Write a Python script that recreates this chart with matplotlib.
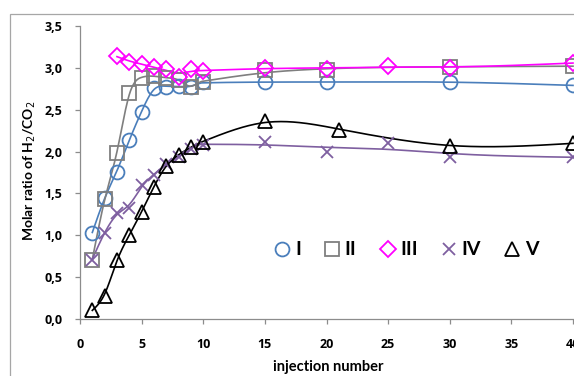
import numpy as np
import matplotlib
matplotlib.use("Agg")
import matplotlib.pyplot as plt
from matplotlib.lines import Line2D
from matplotlib.patches import Rectangle
from matplotlib.ticker import FuncFormatter, MultipleLocator

plt.rcParams['font.family'] = ['Lato', 'DejaVu Sans']

# ---- data ----
x_I = [1, 2, 3, 4, 5, 6, 7, 8, 9, 10, 15, 20, 30, 40]
y_I = [1.03, 1.45, 1.76, 2.14, 2.47, 2.76, 2.77, 2.78, 2.77, 2.83, 2.83, 2.83, 2.83, 2.79]

x_II = [1, 2, 3, 4, 5, 6, 7, 8, 9, 10, 15, 20, 30, 40]
y_II = [0.71, 1.43, 1.98, 2.70, 2.88, 2.90, 2.88, 2.86, 2.77, 2.83, 2.97, 2.98, 3.01, 3.02]

x_III = [3, 4, 5, 6, 7, 8, 9, 10, 15, 20, 25, 30, 40]
y_III = [3.14, 3.07, 3.05, 3.01, 2.99, 2.89, 2.99, 2.96, 3.00, 2.99, 3.02, 3.00, 3.06]

x_IV = [1, 2, 3, 4, 5, 6, 7, 8, 9, 10, 15, 20, 25, 30, 40]
y_IV = [0.71, 1.03, 1.27, 1.33, 1.60, 1.72, 1.85, 1.93, 2.03, 2.08, 2.12, 1.99, 2.10, 1.93, 1.94]

x_V = [1, 2, 3, 4, 5, 6, 7, 8, 9, 10, 15, 21, 30, 40]
y_V = [0.11, 0.28, 0.71, 1.00, 1.28, 1.58, 1.83, 1.96, 2.05, 2.11, 2.37, 2.26, 2.07, 2.10]

labels = ['I', 'II', 'III', 'IV', 'V']
colors = ['#4A7EBB', '#7F7F7F', '#FF00FF', '#7E5FA0', '#000000']
xticks = [0, 5, 10, 15, 20, 25, 30, 35, 40]

series = [(x_I, y_I), (x_II, y_II), (x_III, y_III), (x_IV, y_IV), (x_V, y_V)]
markers = ['o', 's', 'D', 'x', '^']
msizes = [10, 9.5, 8, 9, 10]
# smoothing strength (dense part x<=10, sparse part x>10)
smooth_par = [(0.03, 8.0), (0.01, 30.0), (0.3, 30.0), (0.05, 60.0), (0.02, 4.0)]


def whittaker(xs, ys, lam_a, lam_b, h=0.1):
    xs = np.asarray(xs, float)
    ys = np.asarray(ys, float)
    xg = np.arange(xs.min(), 40 + h / 2, h)
    n = len(xg)
    w = np.zeros(n)
    yv = np.zeros(n)
    idx = np.rint((xs - xg[0]) / h).astype(int)
    w[idx] = 1.0
    yv[idx] = ys
    D = np.diff(np.eye(n), 2, axis=0) / h ** 2
    lam = np.where(xg[1:-1] <= 10, lam_a, lam_b) * h
    A = np.diag(w) + D.T @ (lam[:, None] * D)
    z = np.linalg.solve(A, w * yv)
    return xg, z


W, H = 574, 376
fig = plt.figure(figsize=(W / 100, H / 100), dpi=100)

# outer chart-area border (extends beyond the picture)
fig.add_artist(Rectangle((10 / W, -0.1), 1.2, (H - 14) / H + 0.1, transform=fig.transFigure,
                         fill=False, edgecolor='#A6A6A6', linewidth=0.9))

ax = fig.add_axes([80 / W, (H - 319) / H, 493 / W, 293 / H])
ax.set_xlim(0, 40)
ax.set_ylim(0, 3.5)

for (xs, ys), c, m, ms, (la, lb) in zip(series, colors, markers, msizes, smooth_par):
    xx, zz = whittaker(xs, ys, la, lb)
    ax.plot(xx, zz, color=c, lw=1.2, zorder=2, clip_on=False)
    if m == 'x':
        ax.plot(xs, ys, ls='none', marker=m, ms=ms, mec=c, mew=1.3, zorder=3, clip_on=False)
    else:
        ax.plot(xs, ys, ls='none', marker=m, ms=ms, mfc='none', mec=c, mew=1.3, zorder=3, clip_on=False)

for s in ['top', 'right']:
    ax.spines[s].set_visible(False)
for s in ['left', 'bottom']:
    ax.spines[s].set_color('#8C8C8C')
    ax.spines[s].set_linewidth(0.9)

ax.set_xticks(xticks)
ax.yaxis.set_major_locator(MultipleLocator(0.5))
ax.yaxis.set_major_formatter(FuncFormatter(lambda v, p: f"{v:.1f}".replace('.', ',')))
ax.tick_params(axis='both', direction='out', length=3.5, width=0.9, color='#8C8C8C',
               labelsize=9, labelcolor='black')
ax.tick_params(axis='y', pad=9)
ax.tick_params(axis='x', pad=10)
for t in ax.get_xticklabels() + ax.get_yticklabels():
    t.set_fontweight('bold')
    t.set_family(['Open Sans', 'DejaVu Sans'])

fig.text(30 / W, 1 - 171 / H, 'Molar ratio of H$_2$/CO$_2$', rotation=90, ha='center', va='center',
         fontsize=10, fontweight='bold')
fig.text(328 / W, 1 - 367 / H, 'injection number', ha='center', va='center',
         fontsize=10.5, fontweight='bold')

handles = []
for c, m, ms in zip(colors, markers, msizes):
    if m == 'x':
        handles.append(Line2D([], [], ls='none', marker=m, ms=ms, mec=c, mew=1.3))
    else:
        handles.append(Line2D([], [], ls='none', marker=m, ms=ms, mfc='none', mec=c, mew=1.3))
leg = ax.legend(handles, labels, ncol=5, loc='center', bbox_to_anchor=((406 - 80) / 493, (319 - 250) / 293),
                frameon=False, prop={'weight': 'bold', 'size': 14}, handlelength=0.9,
                handletextpad=0.2, columnspacing=1.15, borderpad=0, borderaxespad=0)

fig.savefig('out.png', dpi=100)
